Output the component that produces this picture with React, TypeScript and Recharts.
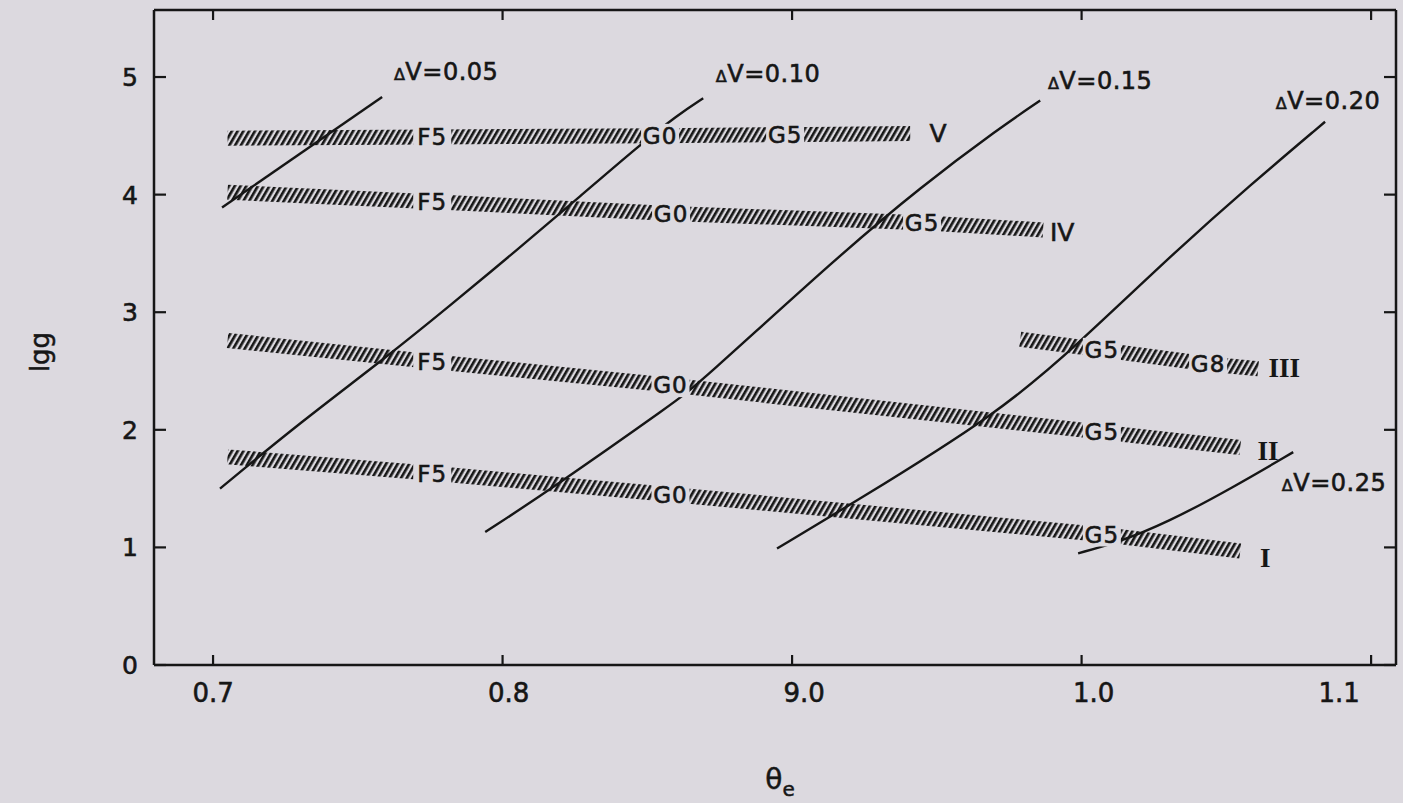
import { ComposedChart, Line, Scatter, XAxis, YAxis } from 'recharts'

const BG = '#dcd9df'
const INK = '#161616'
const SANS = '"DejaVu Sans", "Liberation Sans", sans-serif'
const SERIF = '"Liberation Serif", "DejaVu Serif", serif'

const X_DOMAIN = [0.6796, 1.1086]
const Y_DOMAIN = [0, 5.57]

// axis ticks (the 0.9 label is printed "9.0" in the source figure)
const xTickValues = [0.7, 0.8, 0.9, 1.0, 1.1]
const xTickLabels = ['0.7', '0.8', '9.0', '1.0', '1.1']
const yTickValues = [0, 1, 2, 3, 4, 5]

// hatched luminosity-class bands, lgg vs theta_e
const bandV = [
  { x: 0.705, y: 4.48 }, { x: 0.7757, y: 4.49 }, { x: 0.8544, y: 4.5 },
  { x: 0.8976, y: 4.51 }, { x: 0.9408, y: 4.52 },
]
const bandIV = [
  { x: 0.705, y: 4.02 }, { x: 0.7757, y: 3.94 }, { x: 0.8582, y: 3.84 },
  { x: 0.9449, y: 3.76 }, { x: 0.9867, y: 3.7 },
]
const bandIII = [
  { x: 0.9788, y: 2.77 }, { x: 1.007, y: 2.68 }, { x: 1.0437, y: 2.56 }, { x: 1.061, y: 2.52 },
]
const bandII = [
  { x: 0.705, y: 2.76 }, { x: 0.7757, y: 2.58 }, { x: 0.858, y: 2.38 },
  { x: 1.007, y: 1.98 }, { x: 1.0548, y: 1.85 },
]
const bandI = [
  { x: 0.705, y: 1.77 }, { x: 0.7757, y: 1.63 }, { x: 0.858, y: 1.45 },
  { x: 1.007, y: 1.11 }, { x: 1.0548, y: 0.97 },
]

// lines of constant delta V
const dv05 = [{ x: 0.7031, y: 3.89 }, { x: 0.7584, y: 4.83 }]
const dv10 = [
  { x: 0.7024, y: 1.5 }, { x: 0.73, y: 2.06 }, { x: 0.76, y: 2.62 }, { x: 0.782, y: 3.06 },
  { x: 0.805, y: 3.53 }, { x: 0.827, y: 3.99 }, { x: 0.8468, y: 4.41 }, { x: 0.8606, y: 4.68 },
  { x: 0.8693, y: 4.82 },
]
const dv15 = [
  { x: 0.794, y: 1.13 }, { x: 0.8164, y: 1.49 }, { x: 0.8603, y: 2.25 }, { x: 0.8672, y: 2.38 },
  { x: 0.9166, y: 3.49 }, { x: 0.9442, y: 4.06 }, { x: 0.9719, y: 4.57 }, { x: 0.9857, y: 4.8 },
]
const dv20 = [
  { x: 0.8948, y: 0.99 }, { x: 0.92, y: 1.36 }, { x: 0.9719, y: 2.15 }, { x: 0.9984, y: 2.72 },
  { x: 1.033, y: 3.53 }, { x: 1.0582, y: 4.08 }, { x: 1.0841, y: 4.62 },
]
const dv25 = [
  { x: 0.9988, y: 0.95 }, { x: 1.0123, y: 1.04 }, { x: 1.0295, y: 1.21 },
  { x: 1.0523, y: 1.51 }, { x: 1.0731, y: 1.81 },
]

// spectral type marks sitting in the bands
const spectralLabels = [
  { x: 0.7757, y: 4.49, t: 'F5' }, { x: 0.8544, y: 4.5, t: 'G0' }, { x: 0.8976, y: 4.51, t: 'G5' },
  { x: 0.7757, y: 3.94, t: 'F5' }, { x: 0.8582, y: 3.84, t: 'G0' }, { x: 0.9449, y: 3.76, t: 'G5' },
  { x: 1.007, y: 2.68, t: 'G5' }, { x: 1.0437, y: 2.56, t: 'G8' },
  { x: 0.7757, y: 2.58, t: 'F5' }, { x: 0.858, y: 2.38, t: 'G0' }, { x: 1.007, y: 1.98, t: 'G5' },
  { x: 0.7757, y: 1.63, t: 'F5' }, { x: 0.858, y: 1.45, t: 'G0' }, { x: 1.007, y: 1.11, t: 'G5' },
]
const classLabels = [
  { x: 0.9504, y: 4.52, t: 'V', serif: false },
  { x: 0.9933, y: 3.68, t: 'IV', serif: false },
  { x: 1.07, y: 2.53, t: 'III', serif: true },
  { x: 1.0644, y: 1.83, t: 'II', serif: true },
  { x: 1.0634, y: 0.92, t: 'I', serif: true },
]
const dvLabels = [
  { x: 0.7805, y: 5.05, t: '0.05' },
  { x: 0.8917, y: 5.03, t: '0.10' },
  { x: 1.0064, y: 4.97, t: '0.15' },
  { x: 1.0851, y: 4.8, t: '0.20' },
  { x: 1.0872, y: 1.556, t: '0.25' },
]

const bands = [bandV, bandIV, bandIII, bandII, bandI]
const curves = [dv05, dv10, dv15, dv20, dv25]

function tickIndex(v: number) {
  return xTickValues.findIndex((t) => Math.abs(t - v) < 1e-6)
}

// a thin outline makes the glyphs as heavy as the printed lettering
const heavy = { stroke: INK, strokeWidth: 0.6 }

const BottomTick = (p: any) => {
  const { x, y, payload } = p
  const i = tickIndex(payload.value)
  const shift = [0, 6, 12, 12, -32][i] ?? 0
  return (
    <g>
      <line x1={x} y1={y} x2={x} y2={y - 10} stroke={INK} strokeWidth={2.2} />
      <text x={x + shift} y={y + 37} textAnchor="middle" fontSize={26} fontFamily={SANS} fill={INK} {...heavy}>
        {xTickLabels[i]}
      </text>
    </g>
  )
}

const TopTick = (p: any) => (
  <line x1={p.x} y1={p.y} x2={p.x} y2={p.y + 10} stroke={INK} strokeWidth={2.2} />
)

const LeftTick = (p: any) => {
  const { x, y, payload } = p
  return (
    <g>
      <line x1={x} y1={y} x2={x + 12} y2={y} stroke={INK} strokeWidth={2.2} />
      <text x={x - 16} y={y} dy="0.36em" textAnchor="end" fontSize={25} fontFamily={SANS} fill={INK} {...heavy}>
        {payload.value}
      </text>
    </g>
  )
}

const RightTick = (p: any) => (
  <line x1={p.x} y1={p.y} x2={p.x - 12} y2={p.y} stroke={INK} strokeWidth={2.2} />
)

const SpectralMark = (p: any) => {
  const { cx, cy, payload } = p
  return (
    <g>
      <rect x={cx - 19} y={cy - 12} width={38} height={24} fill={BG} />
      <text x={cx} y={cy} dy="0.36em" textAnchor="middle" fontSize={23} letterSpacing={1}
        fontFamily={SANS} fill={INK} {...heavy}>
        {payload.t}
      </text>
    </g>
  )
}

const ClassMark = (p: any) => {
  const { cx, cy, payload } = p
  return (
    <text x={cx} y={cy} dy="0.36em" textAnchor="middle" fontSize={payload.serif ? 27 : 25}
      fontWeight={payload.serif ? 700 : 400} fontFamily={payload.serif ? SERIF : SANS} fill={INK}
      {...(payload.serif ? {} : heavy)}>
      {payload.t}
    </text>
  )
}

const DvMark = (p: any) => {
  const { cx, cy, payload } = p
  return (
    <text x={cx} y={cy} dy="0.36em" textAnchor="middle" fontSize={24} letterSpacing={0.5}
      fontFamily={SANS} fill={INK} {...heavy}>
      <tspan fontSize={16}>Δ</tspan>V=
      {payload.t}
    </text>
  )
}

const axisLine = { stroke: INK, strokeWidth: 2.5 }

export default function App() {
  return (
    <div style={{ position: 'absolute', left: 0, top: 0, width: 1403, height: 803, background: BG, overflow: 'hidden' }}>
      <ComposedChart width={1403} height={803} margin={{ top: 8, right: 5, bottom: 98, left: 94 }}>
        <defs>
          <pattern id="hatch" patternUnits="userSpaceOnUse" width={5} height={5} patternTransform="rotate(30)">
            <line x1={1.3} y1={0} x2={1.3} y2={5} stroke={INK} strokeWidth={2.7} />
          </pattern>
        </defs>
        <XAxis type="number" dataKey="x" domain={X_DOMAIN} ticks={xTickValues} interval={0}
          allowDataOverflow tickSize={0} tickMargin={0} height={40} axisLine={axisLine} tick={<BottomTick />} />
        <XAxis xAxisId="top" orientation="top" type="number" dataKey="x" domain={X_DOMAIN} ticks={xTickValues}
          interval={0} allowDataOverflow tickSize={0} tickMargin={0} height={2} axisLine={axisLine} tick={<TopTick />} />
        <YAxis type="number" domain={Y_DOMAIN} ticks={yTickValues} interval={0} allowDataOverflow
          tickSize={0} tickMargin={0} width={60} axisLine={axisLine} tick={<LeftTick />} />
        <YAxis yAxisId="right" orientation="right" type="number" domain={Y_DOMAIN} ticks={yTickValues}
          interval={0} allowDataOverflow tickSize={0} tickMargin={0} width={2} axisLine={axisLine} tick={<RightTick />} />

        {bands.map((b, i) => (
          <Line key={'band' + i} data={b} dataKey="y" type="linear" stroke="url(#hatch)" strokeWidth={15}
            dot={false} activeDot={false} isAnimationActive={false} />
        ))}
        {curves.map((c, i) => (
          <Line key={'dv' + i} data={c} dataKey="y" type="basis" stroke={INK} strokeWidth={2.4}
            dot={false} activeDot={false} isAnimationActive={false} />
        ))}

        <Scatter data={spectralLabels} dataKey="y" shape={(p: any) => <SpectralMark {...p} />} isAnimationActive={false} />
        <Scatter data={classLabels} dataKey="y" shape={(p: any) => <ClassMark {...p} />} isAnimationActive={false} />
        <Scatter data={dvLabels} dataKey="y" shape={(p: any) => <DvMark {...p} />} isAnimationActive={false} />
      </ComposedChart>

      <div style={{ position: 'absolute', left: 40, top: 352, transform: 'translate(-50%, -50%) rotate(-90deg)',
        fontFamily: SANS, fontSize: 26, color: INK, WebkitTextStroke: '0.5px ' + INK }}>
        lgg
      </div>
      <div style={{ position: 'absolute', left: 780, top: 782, transform: 'translate(-50%, -50%)',
        fontFamily: SANS, fontSize: 28, color: INK, WebkitTextStroke: '0.5px ' + INK }}>
        θ<sub style={{ fontSize: 20 }}>e</sub>
      </div>
    </div>
  )
}
